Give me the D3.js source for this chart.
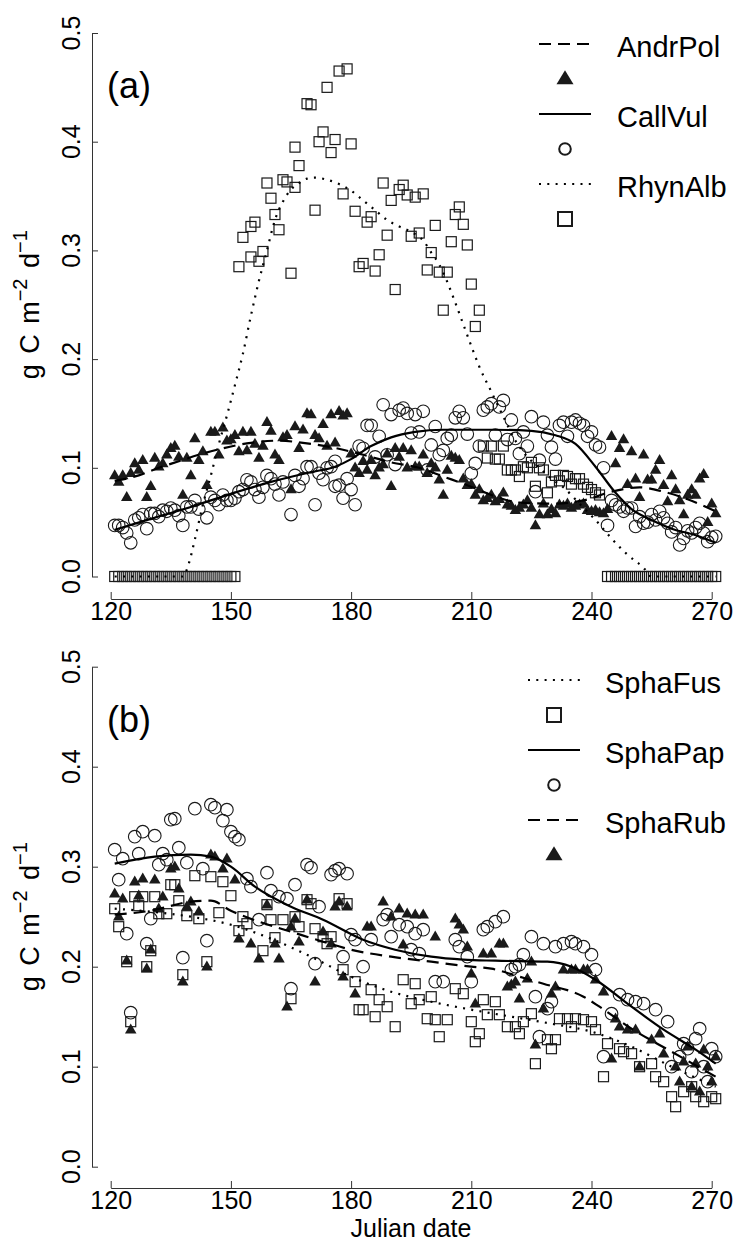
<!DOCTYPE html>
<html><head><meta charset="utf-8">
<script src="https://cdn.jsdelivr.net/npm/d3@7"></script>
<style>body{margin:0;background:#fff}svg{display:block}text{font-family:"Liberation Sans",Arial,sans-serif;fill:#000}</style>
</head><body><svg id="c" width="736" height="1245"></svg>
<script>
// ---------- data ----------
const xTicks=[120,150,180,210,240,270];
const yTicks=[0,0.1,0.2,0.3,0.4,0.5];
const legendA=["AndrPol","CallVul","RhynAlb"];
const legendB=["SphaFus","SphaPap","SphaRub"];

// Panel (a) points [day, gC]
const andrPolPts=[[121,.093],[122,.087],[123,.093],[124,.073],[125,.095],[126,.104],[127,.098],[128,.107],[129,.073],[130,.083],[131,.109],[132,.101],[133,.104],[134,.112],[135,.118],[136,.120],[137,.110],[138,.075],[139,.109],[140,.093],[141,.127],[142,.107],[143,.115],[144,.084],[145,.133],[146,.133],[147,.112],[148,.137],[149,.125],[150,.126],[151,.130],[152,.115],[153,.133],[154,.116],[155,.133],[156,.122],[157,.109],[158,.120],[159,.142],[160,.134],[161,.112],[162,.107],[163,.128],[164,.130],[165,.080],[166,.138],[167,.118],[168,.135],[169,.150],[170,.149],[171,.130],[172,.127],[173,.140],[174,.120],[175,.149],[176,.123],[177,.152],[178,.148],[179,.150],[180,.113],[181,.100],[182,.095],[183,.106],[184,.098],[185,.107],[186,.093],[187,.100],[188,.103],[189,.113],[190,.083],[191,.118],[192,.110],[193,.118],[194,.100],[195,.116],[196,.101],[197,.101],[198,.112],[199,.095],[200,.104],[201,.100],[202,.089],[203,.075],[204,.098],[205,.111],[206,.109],[207,.107],[208,.090],[209,.084],[210,.085],[211,.075],[212,.080],[213,.070],[214,.072],[215,.075],[216,.069],[217,.071],[218,.077],[219,.066],[220,.065],[221,.061],[222,.063],[223,.066],[224,.070],[225,.063],[226,.047],[227,.057],[228,.067],[229,.057],[230,.062],[231,.058],[232,.066],[233,.065],[234,.067],[235,.063],[236,.065],[237,.066],[238,.067],[239,.061],[240,.060],[241,.061],[242,.059],[243,.058],[244,.062],[245,.129],[246,.104],[247,.118],[248,.126],[249,.085],[250,.115],[251,.090],[252,.073],[253,.112],[254,.089],[255,.089],[256,.098],[257,.107],[258,.084],[259,.069],[260,.093],[261,.080],[262,.070],[263,.057],[264,.075],[265,.080],[266,.075],[267,.090],[268,.094],[269,.050],[270,.067],[271,.058]];
const callVulPts=[[121,.047],[122,.047],[123,.045],[124,.040],[125,.031],[126,.052],[127,.054],[128,.057],[129,.044],[130,.058],[131,.058],[132,.055],[133,.061],[134,.060],[135,.063],[136,.061],[137,.056],[138,.047],[139,.064],[140,.064],[141,.070],[142,.062],[144,.054],[145,.073],[146,.070],[147,.066],[148,.075],[149,.070],[150,.070],[151,.072],[152,.078],[153,.080],[154,.089],[155,.087],[156,.080],[157,.073],[158,.082],[159,.093],[160,.090],[161,.085],[162,.075],[163,.087],[165,.057],[166,.093],[167,.083],[168,.090],[169,.101],[170,.101],[171,.066],[172,.095],[173,.089],[174,.100],[175,.101],[176,.083],[176,.106],[177,.084],[178,.072],[179,.090],[180,.080],[181,.066],[182,.120],[183,.118],[184,.139],[185,.139],[186,.110],[187,.129],[188,.158],[189,.112],[190,.149],[191,.103],[192,.153],[193,.155],[194,.150],[195,.132],[196,.149],[197,.133],[198,.152],[199,.098],[200,.121],[201,.138],[202,.112],[203,.116],[204,.127],[205,.130],[206,.146],[207,.152],[208,.146],[209,.131],[210,.095],[211,.104],[212,.120],[213,.153],[214,.156],[215,.159],[216,.130],[217,.156],[218,.162],[219,.126],[220,.144],[221,.127],[222,.113],[223,.133],[224,.120],[225,.147],[226,.078],[227,.107],[228,.142],[229,.130],[230,.119],[231,.108],[232,.139],[233,.142],[234,.129],[235,.142],[236,.144],[237,.141],[238,.139],[239,.129],[240,.133],[241,.121],[242,.119],[243,.100],[244,.047],[245,.070],[246,.066],[247,.064],[248,.060],[249,.063],[250,.063],[251,.046],[252,.055],[253,.049],[254,.050],[255,.057],[256,.052],[257,.060],[258,.054],[259,.049],[260,.041],[261,.045],[262,.029],[263,.035],[264,.042],[265,.040],[266,.045],[267,.049],[268,.040],[269,.032],[270,.036],[271,.037]];
const rhynAlbPts=[[121,0],[122,0],[123,0],[124,0],[125,0],[126,0],[127,0],[128,0],[129,0],[130,0],[131,0],[132,0],[133,0],[134,0],[135,0],[136,0],[137,0],[138,0],[139,0],[140,0],[141,0],[142,0],[143,0],[144,0],[145,0],[146,0],[147,0],[148,0],[149,0],[150,0],[151,0],
[152,.285],[153,.312],[155,.322],[155,.294],[156,.326],[157,.290],[158,.299],[159,.362],[160,.348],[161,.333],[162,.319],[163,.365],[164,.363],[165,.279],[166,.358],[166,.395],[167,.378],[169,.435],[170,.434],[171,.337],[172,.400],[173,.409],[174,.450],[175,.390],[176,.402],[177,.465],[178,.352],[179,.467],[180,.398],[181,.336],[182,.285],[183,.288],[184,.326],[185,.331],[186,.281],[187,.296],[188,.362],[189,.314],[190,.346],[191,.264],[192,.356],[193,.360],[194,.351],[195,.313],[196,.349],[197,.316],[198,.352],[199,.282],[200,.298],[201,.323],[202,.280],[203,.245],[204,.280],[205,.308],[206,.333],[207,.340],[208,.324],[209,.305],[210,.269],[211,.230],[212,.245],
[213,.120],[214,.109],[215,.120],[216,.108],[217,.108],[218,.120],[219,.098],[220,.098],[221,.098],[222,.092],[223,.101],[224,.100],[225,.105],[226,.083],[227,.100],[228,.098],[229,.077],[230,.087],[231,.093],[232,.088],[233,.093],[234,.092],[235,.085],[236,.090],[237,.090],[238,.085],[239,.082],[240,.080],[241,.077],[242,.075],
[244,0],[245,0],[246,0],[247,0],[248,0],[249,0],[250,0],[251,0],[252,0],[253,0],[254,0],[255,0],[256,0],[257,0],[258,0],[259,0],[260,0],[261,0],[262,0],[263,0],[264,0],[265,0],[266,0],[267,0],[268,0],[269,0],[270,0],[271,0]];
// Panel (a) smoothed lines
const andrPolLine=[[121,.088],[127,.093],[132,.100],[137,.106],[142,.112],[147,.117],[155,.123],[162,.125],[168,.123],[175,.119],[183,.112],[190,.105],[197,.100],[203,.092],[209,.084],[215,.075],[222,.068],[230,.067],[238,.070],[245,.078],[252,.082],[258,.078],[264,.071],[271,.060]];
const callVulLine=[[121,.043],[130,.053],[140,.064],[150,.076],[160,.087],[170,.096],[176,.101],[180,.108],[185,.120],[190,.128],[196,.133],[203,.135],[215,.135],[225,.134],[231,.130],[236,.122],[241,.101],[246,.077],[250,.062],[255,.052],[260,.044],[266,.038],[271,.031]];
const rhynAlbLine=[[121,0],[130,0],[138,0],[139.5,.012],[141,.034],[143,.066],[145,.093],[147,.122],[149,.148],[151,.176],[153,.205],[155,.240],[157,.272],[159,.300],[161,.328],[163,.345],[165,.356],[167,.362],[169,.366],[171,.367],[174,.365],[177,.361],[180,.355],[183,.346],[186,.337],[189,.328],[192,.322],[195,.317],[198,.309],[200,.298],[202,.287],[204,.271],[206,.252],[208,.232],[210,.212],[212,.193],[215,.170],[218,.147],[221,.125],[224,.110],[227,.100],[230,.090],[233,.082],[237,.067],[241,.052],[245,.035],[249,.020],[253,.008],[255,0],[263,0],[271,0]];

// Panel (b) points
const sphaFusPts=[[121,.258],[122,.240],[124,.205],[125,.145],[126,.270],[127,.261],[128,.270],[129,.200],[130,.216],[131,.270],[132,.253],[134,.253],[135,.282],[136,.282],[137,.266],[138,.192],[139,.251],[141,.291],[142,.248],[144,.205],[145,.290],[147,.254],[148,.285],[150,.271],[152,.236],[153,.250],[154,.243],[158,.216],[159,.262],[160,.247],[161,.229],[163,.247],[165,.168],[166,.250],[167,.240],[169,.267],[170,.263],[171,.238],[173,.230],[174,.223],[175,.230],[177,.268],[178,.197],[179,.263],[181,.185],[182,.157],[183,.157],[185,.177],[186,.150],[187,.167],[189,.160],[191,.140],[193,.187],[195,.163],[196,.183],[197,.167],[199,.148],[200,.170],[201,.147],[202,.130],[204,.147],[206,.178],[208,.173],[210,.145],[211,.125],[212,.133],[213,.167],[214,.152],[216,.165],[217,.152],[219,.140],[221,.140],[222,.133],[223,.145],[225,.153],[226,.103],[229,.127],[230,.118],[231,.127],[232,.148],[234,.148],[235,.140],[236,.148],[238,.147],[240,.145],[241,.137],[243,.090],[244,.123],[247,.118],[248,.115],[250,.113],[252,.100],[255,.103],[256,.090],[258,.085],[260,.070],[261,.060],[263,.075],[265,.080],[266,.070],[268,.065],[270,.070],[271,.068]];
const sphaPapPts=[[121,.317],[122,.287],[123,.308],[124,.233],[125,.154],[126,.330],[127,.313],[128,.335],[129,.223],[130,.248],[131,.331],[132,.302],[133,.313],[134,.307],[135,.347],[136,.348],[137,.319],[138,.209],[139,.304],[141,.358],[143,.298],[144,.226],[145,.362],[146,.359],[148,.346],[149,.357],[150,.335],[151,.330],[152,.327],[154,.288],[155,.280],[157,.247],[159,.294],[160,.276],[162,.270],[164,.268],[165,.178],[166,.282],[169,.302],[170,.299],[171,.203],[172,.260],[175,.292],[176,.296],[177,.298],[178,.210],[179,.293],[180,.232],[181,.227],[183,.200],[185,.227],[188,.247],[189,.252],[190,.230],[192,.242],[194,.240],[195,.217],[196,.233],[197,.213],[198,.237],[201,.185],[203,.185],[206,.227],[207,.220],[209,.210],[210,.185],[213,.237],[214,.240],[216,.245],[218,.250],[220,.197],[221,.200],[222,.202],[223,.212],[225,.230],[226,.170],[227,.130],[228,.223],[229,.158],[230,.165],[231,.220],[233,.223],[235,.225],[236,.223],[238,.220],[240,.212],[241,.197],[243,.110],[245,.153],[247,.172],[249,.167],[251,.165],[253,.163],[256,.157],[259,.145],[260,.100],[262,.110],[263,.123],[264,.118],[265,.095],[266,.128],[267,.138],[268,.100],[269,.085],[270,.118],[271,.110]];
const sphaRubPts=[[121,.273],[122,.250],[123,.268],[124,.206],[125,.137],[126,.285],[127,.271],[128,.288],[129,.198],[130,.217],[131,.287],[132,.258],[133,.270],[135,.298],[136,.300],[137,.278],[138,.185],[139,.260],[140,.265],[142,.255],[144,.200],[145,.312],[146,.310],[148,.298],[149,.308],[151,.287],[152,.228],[155,.223],[157,.208],[159,.262],[161,.223],[162,.208],[164,.160],[165,.240],[166,.248],[167,.225],[169,.267],[171,.185],[173,.235],[175,.223],[176,.260],[177,.265],[178,.190],[179,.260],[181,.173],[184,.240],[185,.240],[188,.265],[190,.250],[192,.258],[193,.222],[194,.253],[196,.252],[198,.252],[201,.230],[206,.248],[207,.242],[208,.237],[209,.220],[210,.193],[211,.163],[213,.213],[215,.213],[217,.223],[218,.223],[219,.180],[220,.182],[221,.185],[222,.168],[224,.188],[225,.205],[226,.122],[228,.158],[230,.173],[231,.180],[233,.197],[235,.197],[236,.197],[238,.197],[239,.197],[241,.187],[243,.175],[245,.108],[246,.148],[247,.140],[249,.137],[251,.137],[252,.100],[255,.127],[257,.133],[258,.113],[261,.100],[262,.085],[263,.105],[264,.120],[265,.080],[266,.103],[267,.075],[268,.117],[269,.100],[270,.085],[271,.110]];
// Panel (b) smoothed lines
const sphaFusLine=[[121,.258],[130,.255],[140,.250],[150,.242],[160,.228],[170,.210],[180,.190],[190,.175],[200,.165],[210,.157],[220,.150],[230,.143],[240,.135],[250,.120],[260,.100],[271,.080]];
const sphaPapLine=[[121,.303],[131,.310],[140,.312],[145,.310],[150,.300],[156,.280],[165,.260],[173,.247],[183,.227],[191,.217],[200,.210],[208,.207],[216,.206],[229,.205],[235,.200],[241,.187],[250,.160],[258,.137],[266,.117],[271,.103]];
const sphaRubLine=[[121,.252],[130,.256],[140,.265],[145,.266],[150,.256],[157,.245],[165,.235],[173,.225],[180,.217],[190,.210],[200,.205],[210,.200],[215,.198],[222,.190],[228,.183],[238,.170],[242,.160],[250,.138],[260,.115],[271,.090]];

// ---------- drawing ----------
const svg=d3.select("#c");
svg.append("rect").attr("width",736).attr("height",1245).attr("fill","#fff");
const x=d3.scaleLinear().domain([120,270]).range([110.7,711.7]);
const INK="#1a1a1a";

function symbol(g,type,cx,cy,big){
  if(type==="tri"){
    const w=big?17:11.5,h=big?14:10;
    g.append("path").attr("d",`M${cx},${cy-h*0.62}L${cx+w/2},${cy+h*0.38}L${cx-w/2},${cy+h*0.38}Z`).attr("fill",INK);
  }else if(type==="circ"){
    g.append("circle").attr("cx",cx).attr("cy",cy).attr("r",big?5.8:6.3).attr("fill","none").attr("stroke",INK).attr("stroke-width",big?2:1.1);
  }else{
    const s=big?14:10;
    g.append("rect").attr("x",cx-s/2).attr("y",cy-s/2).attr("width",s).attr("height",s).attr("fill","none").attr("stroke",INK).attr("stroke-width",big?2:1.2);
  }
}
const dashes={dash:"12,7",solid:null,dot:"2,6.3"};

function panel(cfg){
  const y=d3.scaleLinear().domain([0,0.5]).range([cfg.y0,cfg.y5]);
  const g=svg.append("g");
  // axes
  const ax=g.append("g").attr("transform",`translate(0,${cfg.xAxisY})`)
    .call(d3.axisBottom(x).tickValues(xTicks).tickSize(-7).tickSizeOuter(0).tickPadding(3).tickFormat(d3.format("d")));
  ax.select(".domain").attr("stroke","#333");
  ax.selectAll(".tick line").attr("stroke","#333");
  ax.selectAll("text").attr("font-size",25).attr("font-family","Liberation Sans, Arial, sans-serif").attr("fill","#000");
  const ay=g.append("g").attr("transform","translate(92,0)")
    .call(d3.axisLeft(y).tickValues(yTicks).tickSize(-6).tickSizeOuter(0).tickFormat(""));
  ay.select(".domain").attr("stroke","#333");
  ay.selectAll(".tick line").attr("stroke","#333");
  g.selectAll(".ylab").data(yTicks).enter().append("text")
    .attr("transform",d=>`translate(80,${y(d)}) rotate(-90)`).attr("text-anchor","middle")
    .attr("font-size",25).text(d=>d3.format(".1f")(d));
  // y title
  const t=g.append("text").attr("transform",`translate(39,${(cfg.y0+cfg.y5)/2}) rotate(-90)`).attr("text-anchor","middle").attr("font-size",27).attr("word-spacing",3);
  t.append("tspan").text("g C m");
  t.append("tspan").attr("dy",-12).attr("font-size",20).text("\u22122");
  t.append("tspan").attr("dy",12).text(" d");
  t.append("tspan").attr("dy",-12).attr("font-size",20).text("\u22121");
  // panel label
  g.append("text").attr("x",107).attr("y",cfg.labY).attr("font-size",36).text(cfg.label);
  // points
  const pg=g.append("g");
  cfg.series.forEach(s=>{ s.pts.forEach(p=>symbol(pg,s.sym,x(p[0]),y(p[1]),false)); });
  // lines
  const line=d3.line().x(d=>x(d[0])).y(d=>y(d[1])).curve(d3.curveMonotoneX);
  cfg.series.forEach(s=>{
    const p=g.append("path").attr("d",line(s.line)).attr("fill","none").attr("stroke","#000").attr("stroke-width",2.2);
    if(dashes[s.lt]) p.attr("stroke-dasharray",dashes[s.lt]);
  });
  // legend
  const lg=g.append("g");
  cfg.legendOrder.forEach((s,i)=>{
    const ly=cfg.legY+i*70;
    const l=lg.append("line").attr("x1",cfg.legX1).attr("x2",cfg.legX1+52).attr("y1",ly).attr("y2",ly).attr("stroke","#000").attr("stroke-width",2.2);
    if(dashes[s.lt]) l.attr("stroke-dasharray",dashes[s.lt]);
    lg.append("text").attr("x",cfg.legTX).attr("y",ly+13).attr("font-size",29).text(s.name);
    symbol(lg,s.sym,cfg.legX1+26,ly+35,true);
  });
}

const serA=[
  {name:legendA[0],pts:andrPolPts,line:andrPolLine,sym:"tri",lt:"dash"},
  {name:legendA[1],pts:callVulPts,line:callVulLine,sym:"circ",lt:"solid"},
  {name:legendA[2],pts:rhynAlbPts,line:rhynAlbLine,sym:"sq",lt:"dot"}];
const serB=[
  {name:legendB[0],pts:sphaFusPts,line:sphaFusLine,sym:"sq",lt:"dot"},
  {name:legendB[1],pts:sphaPapPts,line:sphaPapLine,sym:"circ",lt:"solid"},
  {name:legendB[2],pts:sphaRubPts,line:sphaRubLine,sym:"tri",lt:"dash"}];

panel({y0:576.5,y5:33,xAxisY:599,label:"(a)",labY:98,series:serA,legendOrder:serA,legY:44,legX1:539,legTX:617});
panel({y0:1166.7,y5:666.7,xAxisY:1188,label:"(b)",labY:732,series:serB,legendOrder:serB,legY:680,legX1:528,legTX:605});

svg.append("text").attr("x",411).attr("y",1237).attr("text-anchor","middle").attr("font-size",25).text("Julian date");
</script></body></html>
